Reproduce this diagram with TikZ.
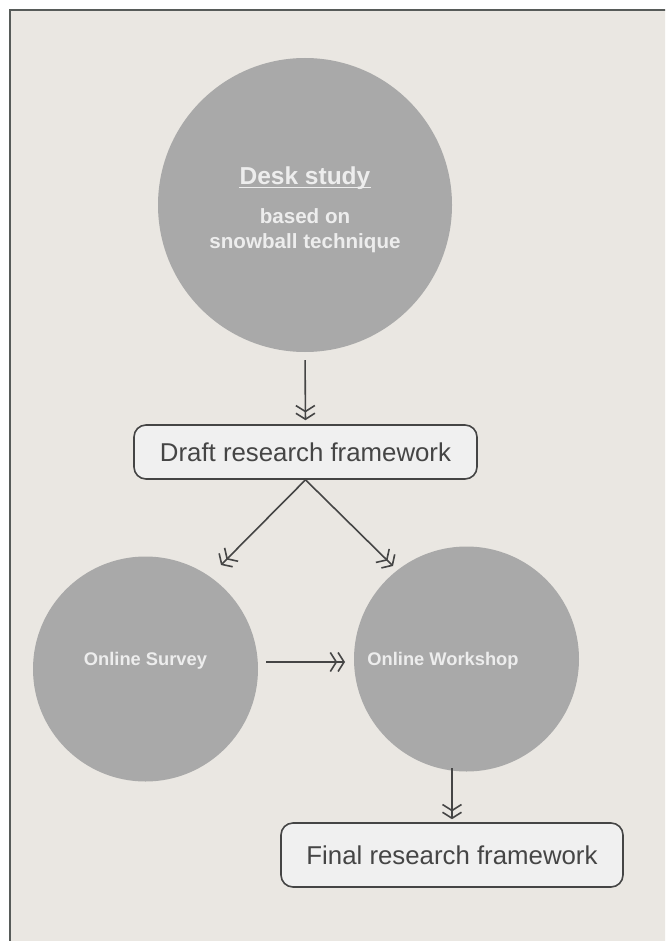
\documentclass[tikz,border=0pt]{standalone}
\usepackage{fontspec}
\setmainfont{Liberation Sans}
\usetikzlibrary{arrows.meta}
\definecolor{bg}{HTML}{EAE7E2}
\definecolor{frame}{HTML}{575B59}
\definecolor{disk}{HTML}{A9A9A9}
\definecolor{boxfill}{HTML}{F0F0F0}
\definecolor{ink}{HTML}{454545}
\definecolor{light}{HTML}{EDEDED}
\begin{document}
\begin{tikzpicture}[x=1pt,y=-1pt,
  disc/.style={circle,fill=disk,inner sep=0pt,minimum size=#1},
  framebox/.style={draw=ink,line width=1.6pt,rounded corners=12pt,fill=boxfill,
    minimum width=343pt,minimum height=54pt,text=ink,inner sep=0pt,
    font=\fontsize{25.8}{30}\selectfont},
  conn/.style={draw=ink,line width=1.6pt,
    -{Straight Barb[length=6pt,width=19pt,line width=1.6pt] Straight Barb[length=6pt,width=19pt,line width=1.6pt]}},
  disctext/.style={text=light,inner sep=0pt,font=\bfseries\fontsize{18.3}{22}\selectfont},
  subtext/.style={text=light,inner sep=0pt,anchor=base,font=\bfseries\fontsize{20.6}{25}\selectfont}
]
\useasboundingbox (0,0) rectangle (665,941);
\fill[white] (0,0) rectangle (665,941);
\begin{scope}
  \clip (0,0) rectangle (665,941);
  \draw[fill=bg,draw=frame,line width=2.2pt] (10,10) rectangle (690,960);
\end{scope}

% Desk study
\node[disc=294pt] (desk) at (305,205) {};
\node[text=light,inner sep=0pt,anchor=base,font=\bfseries\fontsize{24.5}{28}\selectfont] (dtitle) at (305,185) {Desk study};
\draw[light,line width=1.8pt] ([yshift=-2.5pt]dtitle.base west) -- ([yshift=-2.5pt]dtitle.base east);
\node[subtext] (dsub1) at (305,223) {based on};
\node[subtext] (dsub2) at (305,248) {snowball technique};

% boxes
\node[framebox] (draft) at (305.5,452) {Draft research framework};
\node[framebox,minimum width=342pt,minimum height=64pt] (final) at (452,855) {Final research framework};

% circles
\node[disc=225pt] (survey) at (145.5,669) {};
\node[disc=225pt] (workshop) at (466.5,659) {};
\node[disctext] (surveyt) at (145.5,661) {Online Survey};
\node[disctext] (workshopt) at (443,661) {Online Workshop};

% connectors
\coordinate (lt) at (221,565);
\coordinate (rt) at (393,566);
\coordinate (hs) at (266,662);
\coordinate (he) at (345,662);
\coordinate (ds) at (452,768);
\draw[conn,shorten <=8pt,shorten >=4pt] (desk.south) -- (draft.north);
\draw[conn] (draft.south) -- (lt);
\draw[conn] (draft.south) -- (rt);
\draw[conn] (hs) -- (he);
\draw[conn,shorten >=3pt] (ds) -- (final.north);
\end{tikzpicture}
\end{document}
